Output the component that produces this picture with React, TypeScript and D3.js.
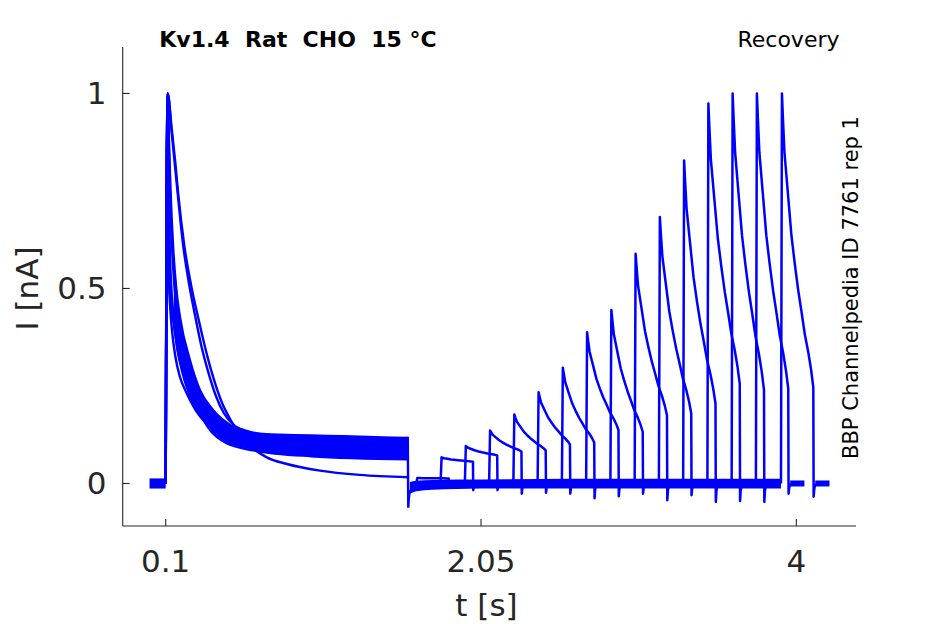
import * as d3 from "d3";

const width = 945;
const height = 624;
const ink = "#262626";
const trace = "#0000ff";

// axis extents (time in s, current in nA)
const timeExtent = [-0.166, 4.369];
const currentExtent = [-0.109, 1.119];
const timeTicks = [0.1, 2.05, 4];
const timeTickLabels = ["0.1", "2.05", "4"];
const currentTicks = [0, 0.5, 1];
const currentTickLabels = ["0", "0.5", "1"];

// first (conditioning) pulse, several overlapping sweeps
const slowTrace: [number, number][] = [
  [0.1, 0], [0.112, 1.0], [0.137, 0.91], [0.16, 0.82], [0.178, 0.739], [0.215, 0.61], [0.261, 0.5],
  [0.302, 0.423], [0.343, 0.35], [0.384, 0.286], [0.446, 0.209], [0.508, 0.158], [0.6, 0.105],
  [0.725, 0.067], [0.85, 0.05], [1.054, 0.033], [1.3, 0.022], [1.598, 0.016]
];
const slowTrace2: [number, number][] = [
  [0.1, 0], [0.112, 1.0], [0.137, 0.9], [0.175, 0.74], [0.205, 0.62], [0.245, 0.51], [0.282, 0.43],
  [0.322, 0.35], [0.36, 0.29], [0.41, 0.225], [0.46, 0.18], [0.52, 0.15], [0.6, 0.135],
  [0.8, 0.122], [1.598, 0.115]
];
const rightEdgeTrace: [number, number][] = [
  [0.1, 0], [0.112, 1.0], [0.12, 0.88], [0.13, 0.75], [0.147, 0.598], [0.165, 0.5], [0.188, 0.427],
  [0.25, 0.316], [0.312, 0.239], [0.394, 0.188], [0.518, 0.145], [0.683, 0.124], [1.0, 0.118],
  [1.598, 0.112]
];
const midTrace: [number, number][] = [
  [0.1, 0], [0.111, 0.99], [0.12, 0.85], [0.13, 0.7], [0.145, 0.56], [0.17, 0.44], [0.2, 0.36],
  [0.25, 0.28], [0.3, 0.22], [0.38, 0.17], [0.5, 0.13], [0.8, 0.1], [1.598, 0.095]
];
const leftEdgeTrace: [number, number][] = [
  [0.1, 0], [0.11, 0.95], [0.118, 0.72], [0.127, 0.513], [0.158, 0.385], [0.209, 0.282],
  [0.292, 0.196], [0.374, 0.137], [0.477, 0.103], [0.642, 0.085], [1.0, 0.07], [1.598, 0.062]
];
const fastTrace: [number, number][] = [
  [0.1, 0], [0.109, 0.9], [0.114, 0.65], [0.12, 0.52], [0.128, 0.45], [0.137, 0.4], [0.16, 0.325],
  [0.188, 0.273], [0.22, 0.24], [0.25, 0.214], [0.29, 0.185], [0.333, 0.162], [0.4, 0.14],
  [0.5, 0.12], [0.7, 0.1], [1.598, 0.085]
];
const fastTrace2: [number, number][] = [
  [0.1, 0], [0.111, 0.97], [0.117, 0.78], [0.125, 0.6], [0.135, 0.5], [0.15, 0.42], [0.17, 0.35],
  [0.2, 0.29], [0.24, 0.235], [0.29, 0.19], [0.35, 0.155], [0.42, 0.13], [0.55, 0.11], [0.9, 0.09],
  [1.598, 0.08]
];
const firstPulseTraces = [
  slowTrace, slowTrace2, rightEdgeTrace, midTrace, leftEdgeTrace, fastTrace, fastTrace2
];

// dense bundle of sweeps merging into the noisy plateau
const bundleTimes = [0.15, 0.17, 0.19, 0.21, 0.25, 0.3, 0.35, 0.4, 0.45, 0.5, 0.6, 0.7, 0.8, 1.0, 1.2, 1.4, 1.598];
const bundleLow = [0.41, 0.35, 0.31, 0.28, 0.235, 0.19, 0.15, 0.128, 0.11, 0.1, 0.09, 0.082, 0.076, 0.069, 0.065, 0.062, 0.06];
const bundleHigh = [0.58, 0.5, 0.42, 0.38, 0.316, 0.25, 0.213, 0.185, 0.163, 0.15, 0.135, 0.13, 0.128, 0.126, 0.124, 0.122, 0.12];

// baselines
const preTimes = [0, 0.1];
const preLow = [-0.013, -0.013];
const preHigh = [0.013, 0.013];
const offTransient: [number, number][] = [
  [1.597, 0.12], [1.6, -0.062], [1.603, -0.04], [1.608, -0.024], [1.62, -0.014]
];
const baseTimes = [1.61, 1.65, 1.75, 1.9, 2.2, 2.6, 3.0, 3.5, 3.905];
const baseLow = [-0.026, -0.02, -0.016, -0.014, -0.013, -0.013, -0.013, -0.013, -0.013];
const baseHigh = [0.004, 0.007, 0.009, 0.01, 0.011, 0.012, 0.012, 0.012, 0.012];

// test pulses after the recovery interval
const pulseStarts = [1.65, 1.8, 1.95, 2.1, 2.25, 2.4, 2.55, 2.7, 2.85, 3.0, 3.15, 3.3, 3.45, 3.6, 3.75, 3.905];
const pulsePeaks = [0.014, 0.067, 0.096, 0.136, 0.177, 0.234, 0.297, 0.388, 0.445, 0.589, 0.683, 0.828, 0.974, 1.0, 1.0, 1.0];
const pulseEnds = [0.013, 0.056, 0.072, 0.082, 0.085, 0.1, 0.105, 0.137, 0.132, 0.175, 0.18, 0.205, 0.256, 0.24, 0.243, 0.246];
const tailDips = [-0.01, -0.017, -0.017, -0.026, -0.024, -0.026, -0.038, -0.033, -0.026, -0.043, -0.03, -0.047, -0.045, -0.047, -0.026, -0.034];
const pulseLength = 0.2;
const sweepTail = 0.1;
// inactivation shape during a test pulse (share of peak-to-end drop left)
const decayPhase = [0, 0.03, 0.08, 0.19, 0.3, 0.41, 0.52, 0.62, 0.73, 0.84, 0.93, 1];
const decayShare = [1, 0.92, 0.8, 0.66, 0.52, 0.42, 0.33, 0.26, 0.18, 0.12, 0.06, 0];

const x = d3.scaleLinear().domain(timeExtent).range([122.7, 856]);
const y = d3.scaleLinear().domain(currentExtent).range([526, 47]);

const smooth = d3
  .line<[number, number]>()
  .x((d) => x(d[0]))
  .y((d) => y(d[1]))
  .curve(d3.curveMonotoneX);
const straight = d3
  .line<[number, number]>()
  .x((d) => x(d[0]))
  .y((d) => y(d[1]));
const band = d3
  .area<[number, number, number]>()
  .x((d) => x(d[0]))
  .y0((d) => y(d[1]))
  .y1((d) => y(d[2]))
  .curve(d3.curveMonotoneX);

const zip3 = (t: number[], lo: number[], hi: number[]) =>
  t.map((v, i) => [v, lo[i], hi[i]] as [number, number, number]);

function testPulse(i: number): [number, number][] {
  const t0 = pulseStarts[i];
  const peak = pulsePeaks[i];
  const end = pulseEnds[i];
  const rise = 0.006;
  const pts: [number, number][] = [[t0, 0]];
  decayPhase.forEach((u, k) => {
    pts.push([t0 + rise + u * (pulseLength - rise), end + (peak - end) * decayShare[k]]);
  });
  const t1 = t0 + pulseLength;
  pts.push([t1 + 0.002, tailDips[i]], [t1 + 0.006, tailDips[i] * 0.4], [t1 + 0.014, 0]);
  return pts;
}

export default function App() {
  const textFont = { fontFamily: "DejaVu Sans", fill: "#000" };
  return (
    <svg
      width={width}
      height={height}
      viewBox={`0 0 ${width} ${height}`}
      style={{ position: "absolute", left: 0, top: 0, background: "#fff" }}
    >
      <rect width={width} height={height} fill="#fff" />

      {/* baselines */}
      <path d={band(zip3(preTimes, preLow, preHigh)) ?? ""} fill={trace} />
      <path d={band(zip3(baseTimes, baseLow, baseHigh)) ?? ""} fill={trace} />
      {pulseStarts.map((t0, i) => (
        <line
          key={`tail-${i}`}
          x1={x(t0 + pulseLength + 0.012)}
          x2={x(t0 + pulseLength + sweepTail)}
          y1={y(0)}
          y2={y(0)}
          stroke={trace}
          strokeWidth={6}
        />
      ))}

      {/* conditioning pulse */}
      <path d={band(zip3(bundleTimes, bundleLow, bundleHigh)) ?? ""} fill={trace} />
      {firstPulseTraces.map((tr, i) => (
        <path key={`first-${i}`} d={smooth(tr) ?? ""} fill="none" stroke={trace} strokeWidth={2.4} />
      ))}
      <path d={straight(offTransient) ?? ""} fill="none" stroke={trace} strokeWidth={2.4} />

      {/* test pulses */}
      {pulseStarts.map((_, i) => (
        <path
          key={`test-${i}`}
          d={straight(testPulse(i)) ?? ""}
          fill="none"
          stroke={trace}
          strokeWidth={2.5}
          strokeLinejoin="round"
        />
      ))}

      {/* axes */}
      <g stroke={ink} strokeWidth={1.1} fill="none">
        <line x1={x.range()[0]} x2={x.range()[0]} y1={y.range()[1]} y2={y.range()[0]} />
        <line x1={x.range()[0]} x2={x.range()[1]} y1={y.range()[0]} y2={y.range()[0]} />
        {timeTicks.map((t) => (
          <line key={t} x1={x(t)} x2={x(t)} y1={y.range()[0]} y2={y.range()[0] - 7} />
        ))}
        {currentTicks.map((v) => (
          <line key={v} x1={x.range()[0]} x2={x.range()[0] + 7} y1={y(v)} y2={y(v)} />
        ))}
      </g>
      <g fontFamily="DejaVu Sans" fontSize={31} fill={ink}>
        {timeTicks.map((t, i) => (
          <text key={t} x={x(t)} y={571.5} textAnchor="middle">
            {timeTickLabels[i]}
          </text>
        ))}
        {currentTicks.map((v, i) => (
          <text key={v} x={106.5} y={y(v) + 11} textAnchor="end">
            {currentTickLabels[i]}
          </text>
        ))}
        <text x={486.5} y={616} textAnchor="middle">
          t [s]
        </text>
        <text transform="translate(37.5,288.5) rotate(-90)" textAnchor="middle">
          I [nA]
        </text>
      </g>

      <text x={159.3} y={46.7} fontSize={22} fontWeight="bold" style={{ whiteSpace: "pre" }} {...textFont}>
        {"Kv1.4  Rat  CHO  15 °C"}
      </text>
      <text x={839.5} y={46.7} fontSize={22} textAnchor="end" {...textFont}>
        Recovery
      </text>
      <text transform="translate(858,287.5) rotate(-90)" fontSize={21} textAnchor="middle" {...textFont}>
        BBP Channelpedia ID 7761 rep 1
      </text>
    </svg>
  );
}
